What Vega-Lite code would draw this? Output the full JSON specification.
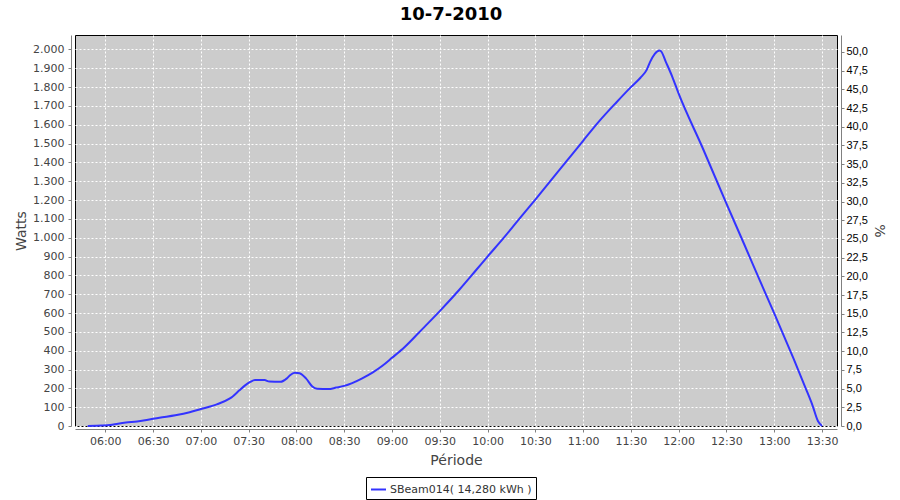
{
  "$schema": "https://vega.github.io/schema/vega-lite/v6.json",
  "autosize": {"type": "none"},
  "width": 762,
  "height": 391,
  "padding": {"left": 75, "top": 35, "right": 63, "bottom": 74},
  "background": "white",
  "title": {"text": "10-7-2010", "font": "DejaVu Sans", "fontSize": 18, "fontWeight": "bold", "color": "#000000", "anchor": "middle", "offset": 11, "dx": -5},
  "data": {"values": [
    {"time": "2010-07-10T05:49:00", "watts": 0, "series": "SBeam014( 14,280 kWh )"},
    {"time": "2010-07-10T05:58:00", "watts": 2, "series": "SBeam014( 14,280 kWh )"},
    {"time": "2010-07-10T06:03:00", "watts": 5, "series": "SBeam014( 14,280 kWh )"},
    {"time": "2010-07-10T06:08:00", "watts": 12, "series": "SBeam014( 14,280 kWh )"},
    {"time": "2010-07-10T06:13:00", "watts": 18, "series": "SBeam014( 14,280 kWh )"},
    {"time": "2010-07-10T06:20:00", "watts": 24, "series": "SBeam014( 14,280 kWh )"},
    {"time": "2010-07-10T06:26:00", "watts": 32, "series": "SBeam014( 14,280 kWh )"},
    {"time": "2010-07-10T06:34:00", "watts": 44, "series": "SBeam014( 14,280 kWh )"},
    {"time": "2010-07-10T06:44:00", "watts": 57, "series": "SBeam014( 14,280 kWh )"},
    {"time": "2010-07-10T06:53:00", "watts": 73, "series": "SBeam014( 14,280 kWh )"},
    {"time": "2010-07-10T07:00:00", "watts": 90, "series": "SBeam014( 14,280 kWh )"},
    {"time": "2010-07-10T07:10:00", "watts": 115, "series": "SBeam014( 14,280 kWh )"},
    {"time": "2010-07-10T07:18:00", "watts": 145, "series": "SBeam014( 14,280 kWh )"},
    {"time": "2010-07-10T07:20:00", "watts": 157, "series": "SBeam014( 14,280 kWh )"},
    {"time": "2010-07-10T07:24:00", "watts": 188, "series": "SBeam014( 14,280 kWh )"},
    {"time": "2010-07-10T07:28:00", "watts": 217, "series": "SBeam014( 14,280 kWh )"},
    {"time": "2010-07-10T07:31:00", "watts": 234, "series": "SBeam014( 14,280 kWh )"},
    {"time": "2010-07-10T07:34:00", "watts": 244, "series": "SBeam014( 14,280 kWh )"},
    {"time": "2010-07-10T07:40:00", "watts": 244, "series": "SBeam014( 14,280 kWh )"},
    {"time": "2010-07-10T07:43:00", "watts": 236, "series": "SBeam014( 14,280 kWh )"},
    {"time": "2010-07-10T07:50:00", "watts": 235, "series": "SBeam014( 14,280 kWh )"},
    {"time": "2010-07-10T07:54:00", "watts": 253, "series": "SBeam014( 14,280 kWh )"},
    {"time": "2010-07-10T07:56:00", "watts": 270, "series": "SBeam014( 14,280 kWh )"},
    {"time": "2010-07-10T07:59:00", "watts": 283, "series": "SBeam014( 14,280 kWh )"},
    {"time": "2010-07-10T08:02:00", "watts": 280, "series": "SBeam014( 14,280 kWh )"},
    {"time": "2010-07-10T08:06:00", "watts": 253, "series": "SBeam014( 14,280 kWh )"},
    {"time": "2010-07-10T08:10:00", "watts": 210, "series": "SBeam014( 14,280 kWh )"},
    {"time": "2010-07-10T08:13:00", "watts": 198, "series": "SBeam014( 14,280 kWh )"},
    {"time": "2010-07-10T08:20:00", "watts": 196, "series": "SBeam014( 14,280 kWh )"},
    {"time": "2010-07-10T08:25:00", "watts": 204, "series": "SBeam014( 14,280 kWh )"},
    {"time": "2010-07-10T08:30:00", "watts": 213, "series": "SBeam014( 14,280 kWh )"},
    {"time": "2010-07-10T08:35:00", "watts": 228, "series": "SBeam014( 14,280 kWh )"},
    {"time": "2010-07-10T08:41:00", "watts": 252, "series": "SBeam014( 14,280 kWh )"},
    {"time": "2010-07-10T08:48:00", "watts": 285, "series": "SBeam014( 14,280 kWh )"},
    {"time": "2010-07-10T08:54:00", "watts": 320, "series": "SBeam014( 14,280 kWh )"},
    {"time": "2010-07-10T09:00:00", "watts": 362, "series": "SBeam014( 14,280 kWh )"},
    {"time": "2010-07-10T09:08:00", "watts": 420, "series": "SBeam014( 14,280 kWh )"},
    {"time": "2010-07-10T09:17:00", "watts": 497, "series": "SBeam014( 14,280 kWh )"},
    {"time": "2010-07-10T09:30:00", "watts": 610, "series": "SBeam014( 14,280 kWh )"},
    {"time": "2010-07-10T09:42:00", "watts": 721, "series": "SBeam014( 14,280 kWh )"},
    {"time": "2010-07-10T09:53:00", "watts": 830, "series": "SBeam014( 14,280 kWh )"},
    {"time": "2010-07-10T10:00:00", "watts": 900, "series": "SBeam014( 14,280 kWh )"},
    {"time": "2010-07-10T10:10:00", "watts": 998, "series": "SBeam014( 14,280 kWh )"},
    {"time": "2010-07-10T10:18:00", "watts": 1080, "series": "SBeam014( 14,280 kWh )"},
    {"time": "2010-07-10T10:30:00", "watts": 1203, "series": "SBeam014( 14,280 kWh )"},
    {"time": "2010-07-10T10:50:00", "watts": 1411, "series": "SBeam014( 14,280 kWh )"},
    {"time": "2010-07-10T11:00:00", "watts": 1515, "series": "SBeam014( 14,280 kWh )"},
    {"time": "2010-07-10T11:10:00", "watts": 1618, "series": "SBeam014( 14,280 kWh )"},
    {"time": "2010-07-10T11:21:00", "watts": 1720, "series": "SBeam014( 14,280 kWh )"},
    {"time": "2010-07-10T11:30:00", "watts": 1800, "series": "SBeam014( 14,280 kWh )"},
    {"time": "2010-07-10T11:36:00", "watts": 1850, "series": "SBeam014( 14,280 kWh )"},
    {"time": "2010-07-10T11:40:00", "watts": 1893, "series": "SBeam014( 14,280 kWh )"},
    {"time": "2010-07-10T11:42:00", "watts": 1933, "series": "SBeam014( 14,280 kWh )"},
    {"time": "2010-07-10T11:45:00", "watts": 1977, "series": "SBeam014( 14,280 kWh )"},
    {"time": "2010-07-10T11:48:00", "watts": 1995, "series": "SBeam014( 14,280 kWh )"},
    {"time": "2010-07-10T11:49:00", "watts": 1990, "series": "SBeam014( 14,280 kWh )"},
    {"time": "2010-07-10T11:52:00", "watts": 1933, "series": "SBeam014( 14,280 kWh )"},
    {"time": "2010-07-10T11:56:00", "watts": 1855, "series": "SBeam014( 14,280 kWh )"},
    {"time": "2010-07-10T12:00:00", "watts": 1765, "series": "SBeam014( 14,280 kWh )"},
    {"time": "2010-07-10T12:15:00", "watts": 1478, "series": "SBeam014( 14,280 kWh )"},
    {"time": "2010-07-10T12:30:00", "watts": 1181, "series": "SBeam014( 14,280 kWh )"},
    {"time": "2010-07-10T12:41:00", "watts": 968, "series": "SBeam014( 14,280 kWh )"},
    {"time": "2010-07-10T12:51:00", "watts": 772, "series": "SBeam014( 14,280 kWh )"},
    {"time": "2010-07-10T13:00:00", "watts": 598, "series": "SBeam014( 14,280 kWh )"},
    {"time": "2010-07-10T13:12:00", "watts": 360, "series": "SBeam014( 14,280 kWh )"},
    {"time": "2010-07-10T13:20:00", "watts": 195, "series": "SBeam014( 14,280 kWh )"},
    {"time": "2010-07-10T13:24:00", "watts": 110, "series": "SBeam014( 14,280 kWh )"},
    {"time": "2010-07-10T13:27:30", "watts": 25, "series": "SBeam014( 14,280 kWh )"},
    {"time": "2010-07-10T13:30:00", "watts": 0, "series": "SBeam014( 14,280 kWh )"}
  ]},
  "layer": [
    {
      "mark": {"type": "line", "strokeWidth": 2, "interpolate": "monotone"},
      "encoding": {
        "x": {
          "field": "time", "type": "temporal",
          "scale": {"domain": [
            {"year": 2010, "month": 7, "date": 10, "hours": 5, "minutes": 41},
            {"year": 2010, "month": 7, "date": 10, "hours": 13, "minutes": 39, "seconds": 24}
          ], "nice": false},
          "axis": {
            "title": "Période", "format": "%H:%M",
            "values": [
              {"year": 2010, "month": 7, "date": 10, "hours": 6, "minutes": 0},
              {"year": 2010, "month": 7, "date": 10, "hours": 6, "minutes": 30},
              {"year": 2010, "month": 7, "date": 10, "hours": 7, "minutes": 0},
              {"year": 2010, "month": 7, "date": 10, "hours": 7, "minutes": 30},
              {"year": 2010, "month": 7, "date": 10, "hours": 8, "minutes": 0},
              {"year": 2010, "month": 7, "date": 10, "hours": 8, "minutes": 30},
              {"year": 2010, "month": 7, "date": 10, "hours": 9, "minutes": 0},
              {"year": 2010, "month": 7, "date": 10, "hours": 9, "minutes": 30},
              {"year": 2010, "month": 7, "date": 10, "hours": 10, "minutes": 0},
              {"year": 2010, "month": 7, "date": 10, "hours": 10, "minutes": 30},
              {"year": 2010, "month": 7, "date": 10, "hours": 11, "minutes": 0},
              {"year": 2010, "month": 7, "date": 10, "hours": 11, "minutes": 30},
              {"year": 2010, "month": 7, "date": 10, "hours": 12, "minutes": 0},
              {"year": 2010, "month": 7, "date": 10, "hours": 12, "minutes": 30},
              {"year": 2010, "month": 7, "date": 10, "hours": 13, "minutes": 0},
              {"year": 2010, "month": 7, "date": 10, "hours": 13, "minutes": 30}
            ],
            "offset": 3, "tickSize": 3, "labelPadding": 3,
            "grid": true, "gridColor": "#ffffff", "gridDash": [2, 2], "gridWidth": 1, "gridOpacity": 1,
            "domainColor": "#808080", "tickColor": "#808080",
            "labelColor": "#444444", "labelFont": "DejaVu Sans", "labelFontSize": 11,
            "titleFont": "DejaVu Sans", "titleFontSize": 14, "titleFontWeight": "normal", "titleColor": "#444444",
            "titlePadding": 7, "labelFlush": false, "labelOverlap": false
          }
        },
        "y": {
          "field": "watts", "type": "quantitative",
          "scale": {"domain": [0, 2077], "nice": false},
          "axis": {
            "title": "Watts",
            "values": [0, 100, 200, 300, 400, 500, 600, 700, 800, 900, 1000, 1100, 1200, 1300, 1400, 1500, 1600, 1700, 1800, 1900, 2000],
            "labelExpr": "replace(format(datum.value, ',d'), ',', '.')",
            "offset": 4, "tickSize": 3, "labelPadding": 4,
            "grid": true, "gridColor": "#ffffff", "gridDash": [2, 2], "gridWidth": 1, "gridOpacity": 1,
            "domainColor": "#808080", "tickColor": "#808080",
            "labelColor": "#444444", "labelFont": "DejaVu Sans", "labelFontSize": 11,
            "titleFont": "DejaVu Sans", "titleFontSize": 14, "titleFontWeight": "normal", "titleColor": "#444444",
            "titlePadding": 4, "labelOverlap": false
          }
        },
        "color": {
          "field": "series", "type": "nominal",
          "scale": {"range": ["#3333ff"]},
          "legend": {
            "orient": "none", "legendX": 291, "legendY": 442, "title": null,
            "symbolType": "stroke", "symbolStrokeWidth": 2, "symbolSize": 225,
            "labelFont": "DejaVu Sans", "labelFontSize": 11, "labelColor": "#333333", "labelLimit": 300,
            "strokeColor": "#000000", "fillColor": "#ffffff", "padding": 4, "labelOffset": 3
          }
        }
      }
    },
    {
      "mark": {"type": "rule", "opacity": 0},
      "encoding": {
        "y": {
          "datum": 0, "type": "quantitative",
          "scale": {"domain": [0, 52.27], "nice": false},
          "axis": {
            "orient": "right", "title": "%",
            "values": [0, 2.5, 5, 7.5, 10, 12.5, 15, 17.5, 20, 22.5, 25, 27.5, 30, 32.5, 35, 37.5, 40, 42.5, 45, 47.5, 50],
            "labelExpr": "replace(format(datum.value, '.1f'), '.', ',')",
            "offset": 4, "tickSize": 3, "labelPadding": 2, "grid": false,
            "domainColor": "#808080", "tickColor": "#808080",
            "labelColor": "#000000", "labelFont": "Liberation Sans", "labelFontSize": 11,
            "titleFont": "DejaVu Sans", "titleFontSize": 14, "titleFontWeight": "normal", "titleColor": "#444444",
            "titlePadding": 4, "labelOverlap": false
          }
        }
      }
    }
  ],
  "resolve": {"scale": {"y": "independent"}},
  "config": {
    "view": {"fill": "#cccccc", "stroke": "#000000", "strokeWidth": 1}
  }
}
